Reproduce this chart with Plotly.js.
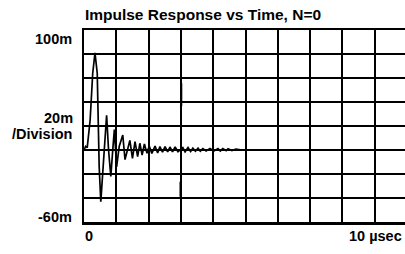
<!DOCTYPE html>
<html>
<head>
<meta charset="utf-8">
<script src="https://cdn.plot.ly/plotly-3.0.1.min.js"></script>
<style>
html,body{margin:0;padding:0;overflow:hidden;background:#fff;}
#chart{width:412px;height:254px;}
</style>
</head>
<body>
<div id="chart"></div>
<script>
// Time in microseconds, response in millivolts (m units)
const timeUs = [0, 0.05, 0.1, 0.19, 0.27, 0.34, 0.41, 0.44, 0.47, 0.52, 0.58, 0.63, 0.70, 0.76, 0.83, 0.89, 0.94, 1.01, 1.09, 1.20, 1.27, 1.42, 1.50, 1.58, 1.66, 1.73, 1.80, 1.87, 1.95, 2.02, 2.10, 2.20, 2.28, 2.35, 2.43, 2.51, 2.59, 2.66, 2.74, 2.82, 2.91, 3.06, 3.13, 3.22, 3.30, 3.37, 3.45, 3.53, 3.60, 3.68, 3.78, 3.90, 4.02, 4.15, 4.22, 4.30, 4.40, 4.46, 4.58, 4.70, 4.90];
const responseM = [0, 3, 2, 25, 64, 81, 64, 22, -14, -43, -19, 8, 29, 0, -22, 0, 17, -14, 3, 12.5, -8, 8, -7, 7, -5.6, 5.6, -4.2, 5, -2.8, 3.3, -2.8, 3.3, -2.5, 2.8, -1.8, 2.8, -1.5, 2.5, -1.5, 2.5, -1.5, 2, -1.5, 2, -1.2, 1.5, -1, 1.5, -1, 1.2, -0.8, 1.2, -0.8, 1.2, -0.8, 1.2, -0.5, 1, -0.4, 0.8, 0];
// Marker segments at t = 3 us
const markerUpperT = [3.02, 3.02];
const markerUpperV = [55.6, 36.7];
const markerLowerT = [2.98, 2.98];
const markerLowerV = [-26.4, -38.9];

const yLabels = ["100m", "20m", "/Division", "-60m"];
const xLabels = ["0", "10 \u00b5sec"];
const titleText = "Impulse Response vs Time, N=0";

const font = {family: "Liberation Sans, Arial, sans-serif", size: 14.5, color: "#000", weight: "bold"};
const titleFont = {family: "Liberation Sans, Arial, sans-serif", size: 15.5, color: "#000", weight: "bold"};

const traces = [
  {x: timeUs, y: responseM, mode: "lines", line: {color: "#000", width: 1.7}, hoverinfo: "skip"},
  {x: markerUpperT, y: markerUpperV, mode: "lines", line: {color: "#000", width: 1.5}, hoverinfo: "skip"},
  {x: markerLowerT, y: markerLowerV, mode: "lines", line: {color: "#000", width: 1.5}, hoverinfo: "skip"}
];

// pixel helpers: plot left 84, right 407, top 30, bottom 222
const px = p => (p - 84) / 323;
const py = p => (222 - p) / 192;

const ann = (text, x, y, xa) => ({text, xref: "paper", yref: "paper", x: px(x), y: py(y), xanchor: xa, yanchor: "middle", showarrow: false, font});

const layout = {
  width: 412, height: 254,
  margin: {l: 84, r: 5, t: 30, b: 32},
  paper_bgcolor: "#fff", plot_bgcolor: "#fff",
  showlegend: false,
  title: {text: titleText, font: titleFont, x: 203 / 412, xanchor: "center", xref: "container", y: 1 - 15 / 254, yref: "container", yanchor: "middle"},
  xaxis: {range: [0, 10], dtick: 1, tick0: 0, showgrid: true, gridcolor: "#000", gridwidth: 2, zeroline: false, showticklabels: false, ticks: "", showline: true, linecolor: "#000", linewidth: 2.5, mirror: true, fixedrange: true},
  yaxis: {range: [-60, 100], dtick: 20, tick0: -60, showgrid: true, gridcolor: "#000", gridwidth: 2, zeroline: false, showticklabels: false, ticks: "", showline: true, linecolor: "#000", linewidth: 2.5, mirror: true, fixedrange: true},
  annotations: [
    ann(yLabels[0], 74, 39, "right"),
    ann(yLabels[1], 75, 117.5, "right"),
    ann(yLabels[2], 74, 134, "right"),
    ann(yLabels[3], 74, 216.5, "right"),
    ann(xLabels[0], 89, 236, "center"),
    ann(xLabels[1], 404, 236, "right")
  ]
};

Plotly.newPlot("chart", traces, layout, {displayModeBar: false, staticPlot: true});
</script>
</body>
</html>
